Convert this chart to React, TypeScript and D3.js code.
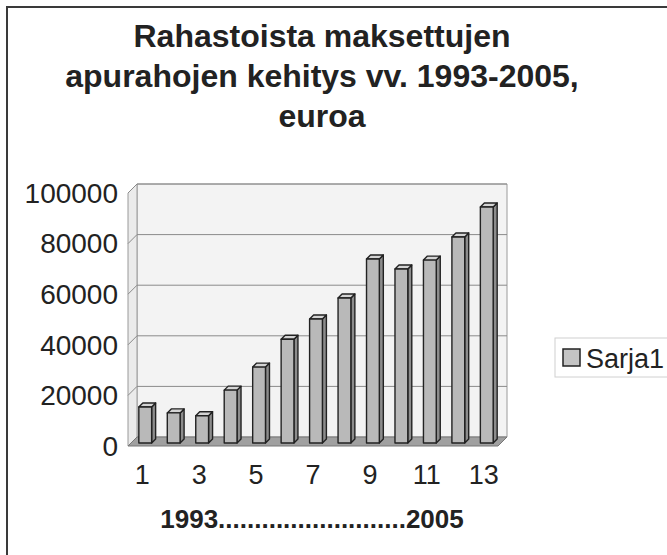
import * as d3 from "d3";

// chart data
const categories = ["1", "2", "3", "4", "5", "6", "7", "8", "9", "10", "11", "12", "13"];
const seriesValues = [14200, 11900, 10800, 20900, 30000, 41000, 49000, 57300, 72700, 68800, 72300, 81400, 93300];
const yTicks = [0, 20000, 40000, 60000, 80000, 100000];
const titleLines = ["Rahastoista maksettujen", "apurahojen kehitys vv. 1993-2005,", "euroa"];
const xAxisTitle = "1993..........................2005";
const seriesName = "Sarja1";

const W = 667;
const H = 555;
const FONT = "'Liberation Sans', Arial, sans-serif";

// 3d box: front plane and depth offset
const left = 128;
const right = 498;
const y0 = 446;
const y1 = 193;
const depth = { dx: 9, dy: -9 };
const barOff = { dx: 3, dy: -3 };
const barDepth = { dx: 4, dy: -4 };

export default function App() {
  const x = d3.scaleBand<string>().domain(categories).range([left, right]).paddingInner(0.55).paddingOuter(0.275);
  const y = d3.scaleLinear().domain([0, 100000]).range([y0, y1]);

  const bx = (px: number) => px + depth.dx;
  const by = (py: number) => py + depth.dy;

  const poly = (pts: [number, number][]) => pts.map((p) => p.join(",")).join(" ");

  return (
    <svg
      width={W}
      height={H}
      style={{ position: "absolute", left: 0, top: 0, background: "#fff" }}
      fontFamily={FONT}
    >
      <rect x={7} y={7} width={720} height={620} fill="#fff" stroke="#3a3a3a" strokeWidth={2} />

      {/* title */}
      {titleLines.map((t, i) => (
        <text key={i} x={322} y={47 + i * 40} textAnchor="middle" fontSize={32} fontWeight="bold" fill="#222">
          {t}
        </text>
      ))}

      {/* walls */}
      <polygon
        points={poly([[bx(left), by(y0)], [bx(right), by(y0)], [bx(right), by(y1)], [bx(left), by(y1)]])}
        fill="#f3f3f3"
        stroke="#9a9a9a"
        strokeWidth={1}
      />
      <polygon
        points={poly([[left, y0], [bx(left), by(y0)], [bx(left), by(y1)], [left, y1]])}
        fill="#ebebeb"
        stroke="#9a9a9a"
        strokeWidth={1}
      />
      <polygon
        points={poly([[left, y0], [right, y0], [bx(right), by(y0)], [bx(left), by(y0)]])}
        fill="#a0a0a0"
        stroke="#777"
        strokeWidth={1}
      />

      {/* gridlines */}
      {yTicks.slice(1).map((t) => (
        <g key={t} stroke="#8a8a8a" strokeWidth={1}>
          <line x1={bx(left)} x2={bx(right)} y1={by(y(t))} y2={by(y(t))} />
          <line x1={left} x2={bx(left)} y1={y(t)} y2={by(y(t))} />
        </g>
      ))}

      {/* y tick labels */}
      {yTicks.map((t) => (
        <text key={t} x={118} y={y(t)} dy="0.35em" textAnchor="end" fontSize={28} fill="#222">
          {t}
        </text>
      ))}

      {/* bars */}
      {seriesValues.map((v, i) => {
        const x0 = (x(categories[i]) as number) + barOff.dx;
        const w = x.bandwidth();
        const base = y(0) + barOff.dy;
        const top = y(v) + barOff.dy;
        return (
          <g key={i} stroke="#222" strokeWidth={1.4} strokeLinejoin="round">
            <polygon
              points={poly([[x0 + w, base], [x0 + w + barDepth.dx, base + barDepth.dy], [x0 + w + barDepth.dx, top + barDepth.dy], [x0 + w, top]])}
              fill="#8c8c8c"
            />
            <polygon
              points={poly([[x0, top], [x0 + w, top], [x0 + w + barDepth.dx, top + barDepth.dy], [x0 + barDepth.dx, top + barDepth.dy]])}
              fill="#d4d4d4"
            />
            <rect x={x0} y={top} width={w} height={base - top} fill="#b9b9b9" />
          </g>
        );
      })}

      {/* x tick labels */}
      {categories.map((c, i) =>
        i % 2 === 0 ? (
          <text key={c} x={(x(c) as number) + x.bandwidth() / 2} y={484} textAnchor="middle" fontSize={27} fill="#222">
            {c}
          </text>
        ) : null
      )}

      <text x={312} y={528} textAnchor="middle" fontSize={26} fontWeight="bold" fill="#222">
        {xAxisTitle}
      </text>

      {/* legend */}
      <rect x={555} y={338} width={130} height={39} fill="#fff" stroke="#d0d0d0" strokeWidth={1} />
      <rect x={563} y={349} width={17} height={17} fill="#c4c4c4" stroke="#222" strokeWidth={1.5} />
      <text x={586} y={368} fontSize={27} fill="#222">
        {seriesName}
      </text>
    </svg>
  );
}
